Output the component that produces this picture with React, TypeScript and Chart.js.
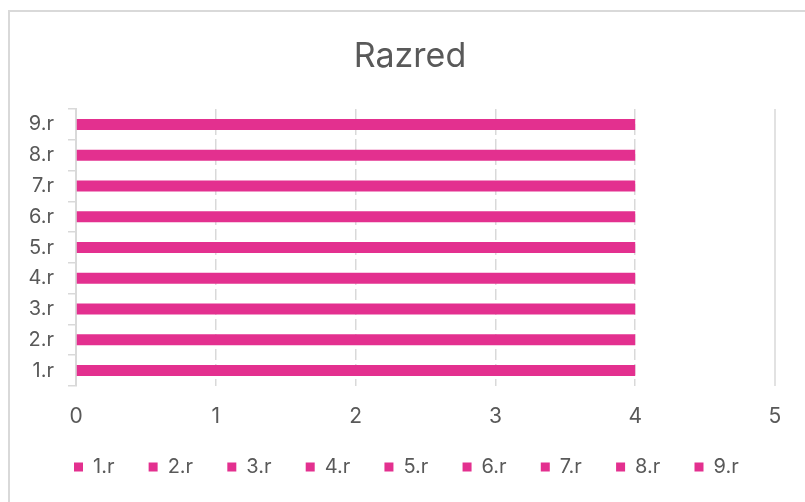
import React, { useEffect, useRef } from "react";
import { Chart, registerables } from "chart.js";

Chart.register(...registerables);

const categories = ["1.r", "2.r", "3.r", "4.r", "5.r", "6.r", "7.r", "8.r", "9.r"];
const values = [4, 4, 4, 4, 4, 4, 4, 4, 4];
const xMin = 0;
const xMax = 5;
const xStep = 1;
const titleText = "Razred";

const BAR_COLOR = "#E3308F";
const TEXT_COLOR = "#595959";
const GRID_COLOR = "#D9D9D9";
const FONT = "Inter";

const LEGEND_FONT = 20;
const LEGEND_PAD = 34.2;
const LEGEND_FIRST_X = 66; // canvas px
const LEGEND_TEXT_Y = 457; // canvas px
const TITLE_CENTER_X = 402;

const maxLinePlugin = {
  id: "maxLine",
  beforeDatasetsDraw(chart: any) {
    const { ctx, chartArea, scales } = chart;
    const x = scales.x.getPixelForValue(scales.x.max);
    ctx.save();
    ctx.strokeStyle = GRID_COLOR;
    ctx.lineWidth = 1.5;
    ctx.beginPath();
    ctx.moveTo(x, chartArea.top);
    ctx.lineTo(x, chartArea.bottom);
    ctx.stroke();
    ctx.restore();
  },
};

const placementPlugin = {
  id: "placement",
  afterLayout(chart: any) {
    const lg = chart.legend;
    if (lg && lg.lineWidths) {
      const x0 = (lg.left + LEGEND_PAD + lg.right - lg.lineWidths[0]) / 2;
      const dx = LEGEND_FIRST_X - x0;
      const y0 = lg.top + LEGEND_PAD + LEGEND_FONT / 2;
      const dy = LEGEND_TEXT_Y - y0;
      lg.left += dx;
      lg.right += dx;
      lg.top += dy;
      lg.bottom += dy;
    }
    const tb = chart.titleBlock;
    if (tb) {
      const c = (tb.left + tb.right) / 2;
      const dx = TITLE_CENTER_X - c;
      tb.left += dx;
      tb.right += dx;
    }
  },
};

export default function App() {
  const ref = useRef<HTMLCanvasElement>(null);

  useEffect(() => {
    if (!ref.current) return;
    const datasets = categories.map((cat, i) => ({
      label: cat,
      data: categories.map((_, j) => (j === i ? values[i] : null)),
      backgroundColor: BAR_COLOR,
      borderWidth: 0,
      barPercentage: 1,
      categoryPercentage: 0.357,
    }));
    const chart = new Chart(ref.current, {
      type: "bar",
      data: { labels: categories, datasets },
      plugins: [maxLinePlugin, placementPlugin],
      options: {
        indexAxis: "y",
        responsive: false,
        animation: false,
        layout: { padding: { left: 16, right: 38, top: 0, bottom: 15.8 } },
        scales: {
          x: {
            stacked: true,
            min: xMin,
            max: xMax,
            ticks: {
              stepSize: xStep,
              color: TEXT_COLOR,
              font: { family: FONT, size: 21 },
              padding: 18.5,
            },
            grid: {
              color: (c: any) =>
                c.tick && (c.tick.value === xMin || c.tick.value === xMax) ? "rgba(0,0,0,0)" : GRID_COLOR,
              lineWidth: 1.5,
              drawTicks: false,
            },
            border: { display: false, dash: [11, 4] },
            afterFit: (scale: any) => {
              scale.height = 46;
            },
          },
          y: {
            stacked: true,
            reverse: true,
            ticks: {
              color: TEXT_COLOR,
              font: { family: FONT, size: 20 },
              padding: 14,
            },
            grid: {
              offset: true,
              drawOnChartArea: false,
              drawTicks: true,
              tickLength: 8,
              color: GRID_COLOR,
              lineWidth: 1.5,
            },
            border: { display: true, color: GRID_COLOR, width: 2 },
            afterFit: (scale: any) => {
              scale.width = 52;
            },
          },
        },
        plugins: {
          title: {
            display: true,
            text: titleText,
            color: TEXT_COLOR,
            font: { family: FONT, size: 34, weight: "normal" },
            padding: { top: 26.6, bottom: 31.6 },
          },
          legend: {
            display: true,
            position: "bottom",
            labels: {
              boxWidth: 9,
              boxHeight: 9,
              padding: LEGEND_PAD,
              color: TEXT_COLOR,
              font: { family: FONT, size: LEGEND_FONT },
            },
          },
          tooltip: { enabled: false },
        },
      },
    });
    return () => chart.destroy();
  }, []);

  return (
    <div style={{ position: "fixed", inset: 0, overflow: "hidden", background: "#fff" }}>
      <div
        style={{
          position: "absolute",
          left: 8,
          top: 10,
          width: 805,
          height: 502,
          border: `2px solid ${GRID_COLOR}`,
          boxSizing: "border-box",
        }}
      >
        <canvas
          ref={ref}
          width={805}
          height={502}
          style={{ position: "absolute", left: -2, top: -2, width: 805, height: 502 }}
        />
      </div>
    </div>
  );
}
